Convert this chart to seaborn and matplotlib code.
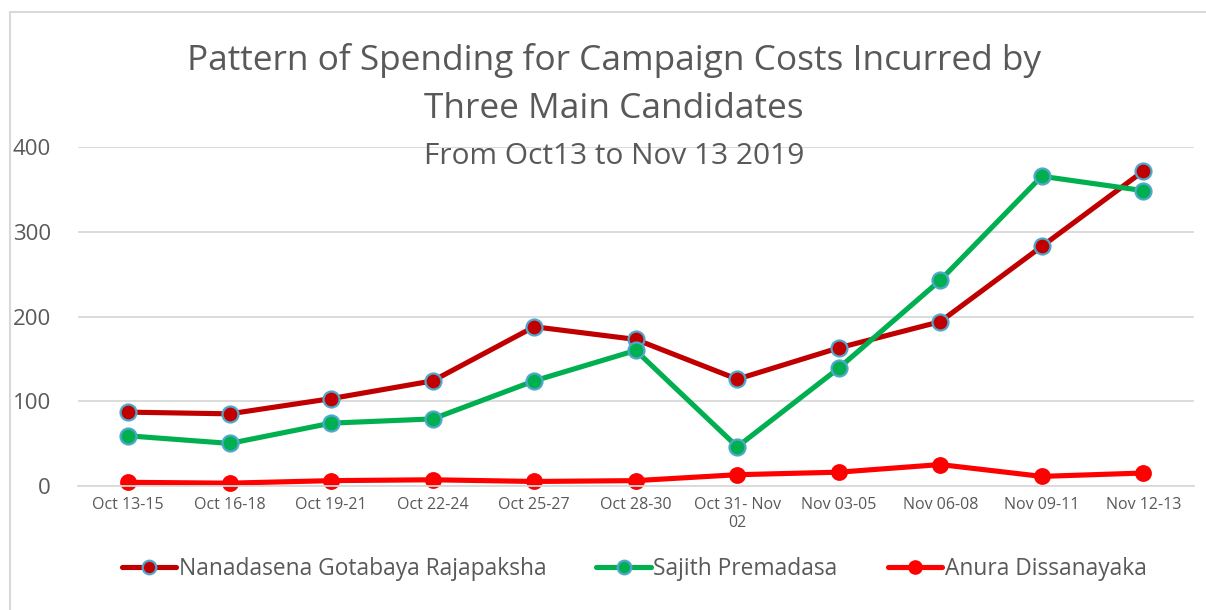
import matplotlib
matplotlib.use("Agg")
import matplotlib.pyplot as plt
from matplotlib.lines import Line2D
import seaborn as sns
import pandas as pd

periods = ["Oct 13-15", "Oct 16-18", "Oct 19-21", "Oct 22-24", "Oct 25-27",
           "Oct 28-30", "Oct 31- Nov\n02", "Nov 03-05", "Nov 06-08",
           "Nov 09-11", "Nov 12-13"]
gotabaya = [87, 85, 103, 124, 188, 173, 126, 163, 194, 283, 372]
sajith = [59, 50, 74, 79, 124, 160, 46, 139, 243, 366, 349]
anura = [4, 3, 6, 7, 5, 6, 13, 16, 25, 11, 15]

names = ["Nanadasena Gotabaya Rajapaksha", "Sajith Premadasa", "Anura Dissanayaka"]
values = [gotabaya, sajith, anura]
colors = ["#C00000", "#00B050", "#FF0000"]
edges = ["#4FA8CC", "#4FA8CC", "#FF0000"]
msizes = [11.5, 11.5, 10.5]

FONT = "Open Sans"
TXT = "#595959"
GRID = "#D9D9D9"

sns.set_theme(style="white")
plt.rcParams["font.family"] = [FONT, "DejaVu Sans"]

W, H = 1206, 610
fig = plt.figure(figsize=(W / 100, H / 100), dpi=100)
fig.patch.set_facecolor("white")

left, right = 77.5, 1194
top, bottom = 147.5, 485.7
ax = fig.add_axes([left / W, (H - bottom) / H, (right - left) / W, (bottom - top) / H])

for name, vals, c, ec, ms in zip(names, values, colors, edges, msizes):
    df = pd.DataFrame({"period": periods, "value": vals})
    sns.lineplot(data=df, x="period", y="value", ax=ax, color=c, linewidth=3.7,
                 marker="o", markersize=ms, markerfacecolor=c, markeredgecolor=ec,
                 markeredgewidth=1.6, label=name, sort=False, clip_on=False)

ax.set_xlim(-0.5, len(periods) - 0.5)
ax.set_ylim(0, 400)
ax.set_yticks([0, 100, 200, 300, 400])
ax.yaxis.grid(True, color=GRID, linewidth=1.3)
ax.set_axisbelow(True)
for s in ["left", "right", "top"]:
    ax.spines[s].set_visible(False)
ax.spines["bottom"].set_color(GRID)
ax.spines["bottom"].set_linewidth(1.3)
ax.set_xlabel("")
ax.set_ylabel("")
ax.tick_params(axis="y", labelsize=16, labelcolor=TXT, length=0, pad=19)
ax.tick_params(axis="x", labelsize=11.5, labelcolor=TXT, length=0, pad=8)
for lab in ax.get_xticklabels():
    lab.set_linespacing(1.15)

handles, labels = ax.get_legend_handles_labels()
ax.get_legend().remove()
fig.legend(handles, labels, loc="center", bbox_to_anchor=(634 / W, 1 - 569 / H),
           ncol=3, frameon=False, fontsize=16.4, labelcolor=TXT,
           handlelength=2.4, handletextpad=0.1, columnspacing=2.2,
           markerscale=0.85)

fig.text(614 / W, 1 - 61 / H, "Pattern of Spending for Campaign Costs Incurred by",
         ha="center", va="center", fontsize=25.4, color=TXT)
fig.text(614 / W, 1 - 109 / H, "Three Main Candidates",
         ha="center", va="center", fontsize=25.4, color=TXT)
fig.text(614 / W, 1 - 157 / H, "From Oct13 to Nov 13 2019",
         ha="center", va="center", fontsize=21.5, color=TXT)

# outer chart frame
fig.add_artist(Line2D([10 / W, 1.0], [1 - 12 / H, 1 - 12 / H], transform=fig.transFigure,
                      color=GRID, linewidth=1.5))
fig.add_artist(Line2D([10 / W, 10 / W], [0, 1 - 12 / H], transform=fig.transFigure,
                      color=GRID, linewidth=1.5))

fig.savefig("out.png", dpi=100, facecolor="white")
